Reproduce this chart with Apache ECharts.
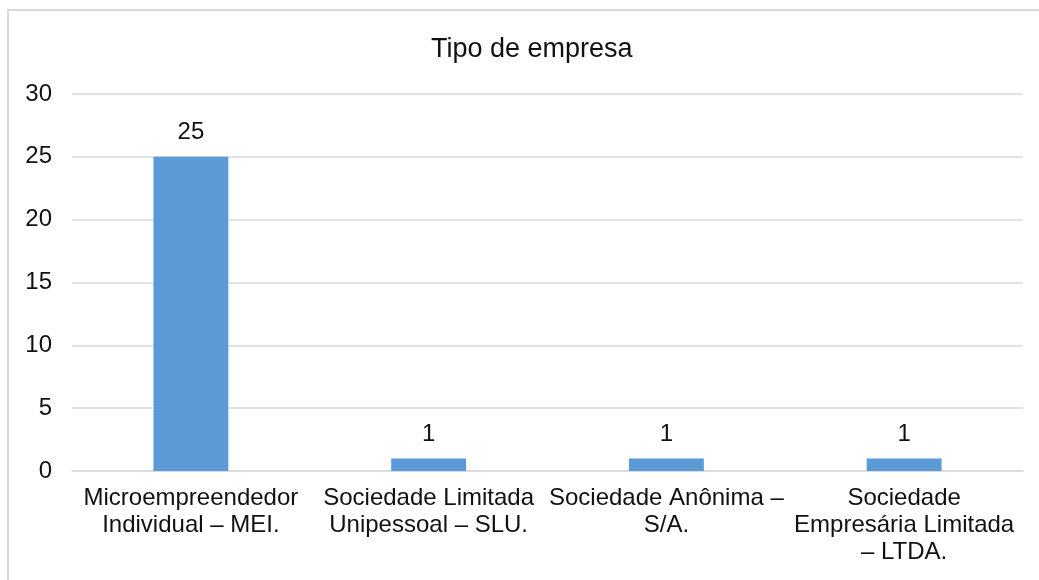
<!DOCTYPE html>
<html>
<head>
<meta charset="utf-8">
<title>Tipo de empresa</title>
<script src="https://cdn.jsdelivr.net/npm/echarts@6/dist/echarts.min.js"></script>
<style>
  html, body { margin: 0; padding: 0; background: #ffffff; }
  #chart { width: 1039px; height: 580px; }
</style>
</head>
<body>
<div id="chart"></div>
<script>
// Company types (category axis) and number of responses per type
const categories = [
  'Microempreendedor\nIndividual – MEI.',
  'Sociedade Limitada\nUnipessoal – SLU.',
  'Sociedade Anônima –\nS/A.',
  'Sociedade\nEmpresária Limitada\n– LTDA.'
];
const counts = [25, 1, 1, 1];

// Value axis range
const yMin = 0;
const yMax = 30;
const yStep = 5;

const FONT = '"Liberation Sans", Arial, Helvetica, sans-serif';
const GRID_COLOR = '#d9d9d9';

const chart = echarts.init(document.getElementById('chart'), null, { renderer: 'canvas' });

chart.setOption({
  backgroundColor: '#ffffff',
  animation: false,
  title: {
    text: 'Tipo de empresa',
    left: 426,
    top: 31,
    textStyle: { fontFamily: FONT, fontSize: 27, fontWeight: 'normal', color: '#111111' }
  },
  graphic: [{
    type: 'rect',
    shape: { x: 8, y: 10, width: 1200, height: 800 },
    style: { fill: 'none', stroke: GRID_COLOR, lineWidth: 2 },
    silent: true,
    z: -1
  }],
  grid: { left: 72, right: 16, top: 94, bottom: 109 },
  xAxis: {
    type: 'category',
    data: categories,
    axisLine: { show: true, lineStyle: { color: GRID_COLOR, width: 1.5 } },
    axisTick: { show: false },
    axisLabel: {
      interval: 0,
      margin: 14,
      fontFamily: FONT,
      fontSize: 24,
      lineHeight: 27,
      color: '#111111',
      align: 'center'
    }
  },
  yAxis: {
    type: 'value',
    min: yMin,
    max: yMax,
    interval: yStep,
    axisLine: { show: false },
    axisTick: { show: false },
    splitLine: { show: true, lineStyle: { color: GRID_COLOR, width: 1.5 } },
    axisLabel: { margin: 20, fontFamily: FONT, fontSize: 24, color: '#111111' }
  },
  series: [{
    type: 'bar',
    data: counts,
    barWidth: '31.5%',
    itemStyle: { color: '#5b9bd5' },
    label: {
      show: true,
      position: 'top',
      distance: 12,
      fontFamily: FONT,
      fontSize: 24,
      color: '#111111'
    }
  }]
});
</script>
</body>
</html>
